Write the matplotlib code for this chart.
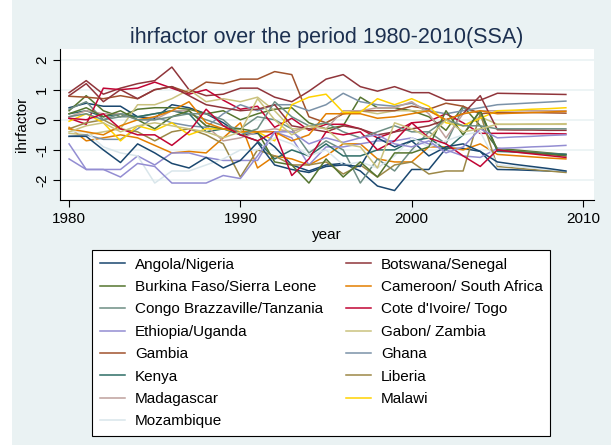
import matplotlib
matplotlib.use("Agg")
import matplotlib.pyplot as plt
from matplotlib.lines import Line2D
from matplotlib.patches import Rectangle

plt.rcParams['font.family'] = ['Liberation Sans', 'DejaVu Sans']

years = list(range(1980, 2010))

angola = [0.40,0.55,0.45,0.45,0.10,0.05,0.50,0.40,0.20,-0.10,-0.50,-0.45,-0.90,-1.50,-1.70,-1.50,-1.45,-1.70,-2.20,-2.35,-1.65,-1.65,-0.95,-0.95,-1.05,-1.65,-1.66,-1.68,-1.70,-1.72]
nigeria = [-0.55,-0.55,-1.00,-1.42,-0.80,-1.10,-1.45,-1.60,-1.25,-1.60,-1.35,-0.75,-1.50,-1.65,-1.75,-1.55,-1.50,-1.55,-0.60,-0.90,-0.70,-1.20,-0.90,-0.80,-1.05,-1.40,-1.48,-1.55,-1.62,-1.70]
botswana = [0.90,1.30,0.85,1.05,1.20,1.30,1.75,1.00,0.80,0.85,1.05,1.05,0.75,0.60,0.95,1.35,1.50,1.10,0.95,1.10,0.90,0.90,0.65,0.65,0.65,0.88,0.87,0.86,0.85,0.84]
senegal = [0.80,1.20,0.60,1.00,0.70,1.00,1.10,0.80,0.50,0.40,0.30,0.35,0.50,-0.20,-0.30,-0.40,-0.20,-0.30,-0.50,-0.40,-0.30,-0.20,0.00,0.20,0.80,-0.33,-0.34,-0.34,-0.35,-0.35]
burkina = [0.30,0.80,0.30,0.10,0.35,0.40,0.40,0.35,0.20,0.30,0.00,0.20,0.35,0.40,-0.10,-0.30,-0.20,0.75,0.40,0.40,0.30,0.10,-0.35,0.45,-0.20,-0.95,-1.00,-1.05,-1.10,-1.15]
sierra_leone = [0.20,0.40,0.10,0.30,0.00,-0.30,0.10,0.30,-0.20,-0.30,-0.30,-0.40,-1.40,-1.50,-2.10,-1.30,-1.90,-1.40,-1.90,-1.10,-1.10,-0.90,0.30,-0.50,0.30,-1.00,-1.05,-1.10,-1.15,-1.20]
cameroon = [-0.25,-0.70,-0.60,-0.50,-0.60,-0.85,-1.10,-1.05,-1.10,-0.60,-0.10,-1.60,-1.20,-1.30,-1.50,-1.20,-0.80,-0.80,-1.30,-1.40,-1.40,-0.90,-0.90,-1.00,-0.80,-1.15,-1.19,-1.23,-1.27,-1.30]
south_africa = [-0.30,-0.40,-0.50,-0.20,0.00,0.10,0.30,0.60,-0.10,-0.30,-0.40,-0.40,-0.40,-0.70,-0.50,0.20,0.20,0.20,0.05,0.10,0.20,0.30,0.00,0.20,0.30,0.20,0.22,0.24,0.26,0.28]
congo = [0.35,0.60,0.00,0.10,0.10,0.20,0.30,0.20,0.00,-0.20,-0.30,0.10,0.00,-0.30,-1.10,-0.70,-1.00,-2.10,-1.30,-1.70,-1.00,-0.40,-0.80,0.40,0.20,-1.00,-1.04,-1.08,-1.12,-1.15]
tanzania = [0.10,0.20,0.00,0.20,0.00,0.00,0.10,0.20,0.20,0.00,-0.50,-0.30,0.60,0.10,-0.20,-0.10,-0.40,-0.60,-0.40,-0.20,-0.40,-0.40,0.00,-0.20,-0.20,-0.30,-0.30,-0.30,-0.30,-0.30]
cote_divoire = [0.05,-0.15,1.05,1.00,1.05,1.25,1.05,0.85,1.00,0.65,0.35,0.45,-0.25,0.05,-0.35,-0.15,-0.15,-0.30,-0.60,-0.40,-0.10,-0.05,0.20,-0.10,-0.45,-0.45,-0.45,-0.46,-0.46,-0.47]
togo = [0.05,0.00,0.20,-0.30,-0.50,-0.50,-0.85,-0.40,0.35,-0.20,-0.50,-0.70,-0.40,-1.85,-1.30,-0.40,-0.50,-0.40,-1.00,-0.70,-0.10,-0.60,-0.80,-1.20,-1.55,-1.00,-1.07,-1.13,-1.19,-1.25]
ethiopia = [-0.80,-1.65,-1.65,-1.65,-1.20,-1.50,-1.10,-1.10,-1.25,-1.35,-1.35,-1.35,-0.40,-0.60,-1.50,-0.90,-0.90,-0.80,-0.70,-0.70,-0.60,-0.80,-1.00,-1.20,-1.25,-0.95,-0.93,-0.90,-0.88,-0.85]
uganda = [-1.30,-1.65,-1.65,-1.90,-1.45,-1.55,-2.10,-2.10,-2.10,-1.85,-1.95,-1.20,-0.40,-0.40,-0.80,-0.60,-0.75,-0.60,-0.50,-0.80,-0.90,-0.70,-1.10,-0.90,-0.30,-0.60,-0.57,-0.55,-0.52,-0.50]
gabon = [-0.45,-0.50,-0.40,-0.30,0.50,0.50,0.70,1.00,0.60,0.70,0.60,0.75,0.30,-0.30,-0.30,-0.10,0.20,0.30,0.20,0.30,0.30,0.30,0.00,-0.20,0.10,-0.15,-0.15,-0.15,-0.15,-0.15]
zambia = [-0.40,-0.20,-0.10,-0.40,-0.20,-0.10,-0.20,-0.30,-0.40,-0.60,-0.40,0.70,0.00,-0.50,-0.20,-0.30,-0.80,-0.90,-1.60,-0.10,-0.30,-0.60,0.00,-0.40,-0.30,-0.15,-0.15,-0.14,-0.14,-0.13]
gambia = [0.78,0.75,0.70,0.80,0.70,1.00,1.10,0.90,1.25,1.20,1.35,1.35,1.60,1.50,0.10,-0.10,0.20,0.30,0.30,0.30,0.45,0.35,0.55,0.45,0.20,0.25,0.24,0.24,0.23,0.22]
ghana = [-0.55,-0.50,-0.65,-0.65,-0.30,0.10,-0.10,-0.20,-0.25,0.20,0.50,0.30,0.50,0.50,0.30,0.50,0.88,0.60,0.50,0.45,0.55,0.30,0.20,0.30,0.40,0.50,0.53,0.56,0.59,0.62]
kenya = [0.20,0.30,0.10,0.20,0.10,0.20,0.30,0.20,-0.40,-0.30,-0.50,-0.70,-1.30,-1.00,-1.20,-0.80,-1.20,-1.20,-1.00,-1.00,-0.70,-0.60,-1.00,-0.50,0.30,-1.05,-1.07,-1.10,-1.13,-1.15]
liberia = [-0.30,-0.10,0.00,-0.30,-0.40,-0.70,-0.40,-0.30,-0.50,-0.80,-1.90,-1.00,-1.20,-1.50,-1.50,-1.40,-1.80,-1.50,-1.90,-1.50,-1.40,-1.80,-1.70,-1.70,0.20,-1.55,-1.60,-1.65,-1.70,-1.75]
madagascar = [0.10,0.30,0.20,0.20,0.00,0.00,0.30,0.30,-0.20,-0.70,-0.60,-0.40,-0.30,-0.40,-0.20,-0.30,0.30,0.30,0.40,0.40,0.60,0.20,-0.60,0.20,0.30,0.30,0.30,0.30,0.30,0.30]
malawi = [-0.05,0.20,-0.10,-0.70,-0.20,-0.35,-0.10,-0.50,-0.30,-0.30,-0.40,-0.40,-0.70,0.50,0.75,0.85,0.25,0.25,0.70,0.50,0.70,0.45,-0.10,-0.20,0.05,0.30,0.32,0.35,0.37,0.40]
mozambique = [-0.40,-0.40,-0.90,-1.10,-1.20,-2.10,-1.70,-1.70,-1.50,-1.30,-1.00,-1.00,-0.60,-0.80,-1.20,-1.00,-1.50,-1.40,-1.60,-1.20,-0.60,-0.90,-0.70,-0.50,-0.40,-1.50,-1.55,-1.60,-1.65,-1.70]

legend_labels = ["Angola/Nigeria", "Botswana/Senegal", "Burkina Faso/Sierra Leone",
                 "Cameroon/ South Africa", "Congo Brazzaville/Tanzania", "Cote d'Ivoire/ Togo",
                 "Ethiopia/Uganda", "Gabon/ Zambia", "Gambia", "Ghana", "Kenya", "Liberia",
                 "Madagascar", "Malawi", "Mozambique"]
colors = ["#1a476f", "#90353b", "#55752f", "#e37e00", "#6e8e84", "#c10534", "#938dd2",
          "#cac27e", "#a0522d", "#7b92a8", "#2d6d66", "#9c8847", "#bfa19c", "#ffd200", "#d9e6eb"]

# countries in alphabetical order; colors cycle through the 15-color palette
countries = [angola, botswana, burkina, cameroon, congo, cote_divoire, ethiopia, gabon,
             gambia, ghana, kenya, liberia, madagascar, malawi, mozambique,
             nigeria, senegal, sierra_leone, south_africa, tanzania, togo, uganda, zambia]

W, H = 611, 445
fig = plt.figure(figsize=(W / 100, H / 100), dpi=100)
fig.patch.set_facecolor("#eaf2f3")
fig.patches.append(Rectangle((0, 0), 12 / W, 1, transform=fig.transFigure,
                             facecolor="white", edgecolor="none", zorder=0))

ax = fig.add_axes([60 / W, 1 - 200.5 / H, (594 - 60) / W, (200.5 - 49) / H])
ax.set_facecolor("white")
for i, vals in enumerate(countries):
    ax.plot(years, vals, color=colors[i % 15], lw=1.1, zorder=3)

ax.set_xlim(1979.47, 2010.64)
ax.set_ylim(-2.68, 2.35)
ax.set_xticks([1980, 1990, 2000, 2010])
ax.set_yticks([-2, -1, 0, 1, 2])
ax.set_yticklabels(["-2", "-1", "0", "1", "2"], rotation=90, va="center")
ax.tick_params(axis="both", direction="out", length=5, width=0.8, labelsize=11,
               colors="black", pad=3)
for s in ["top", "right"]:
    ax.spines[s].set_visible(False)
for s in ["left", "bottom"]:
    ax.spines[s].set_color("black")
    ax.spines[s].set_linewidth(0.8)
ax.grid(axis="y", color="#eaf2f3", lw=1.2, zorder=1)
ax.set_axisbelow(True)

ax.set_xlabel("year", fontsize=11, labelpad=2)
ax.set_ylabel("ihrfactor", fontsize=11, labelpad=4)

fig.text(327 / W, 1 - 37 / H, "ihrfactor over the period 1980-2010(SSA)",
         ha="center", va="center", fontsize=15.5, color="#1c3050")

# legend is read row by row in the reference: reorder for matplotlib's column fill
order = list(range(0, 15, 2)) + list(range(1, 15, 2))
handles = [Line2D([0], [0], color=colors[k], lw=1.1) for k in order]
labels = [legend_labels[k] for k in order]
leg = fig.legend(handles, labels, ncol=2, loc="upper left",
                 bbox_to_anchor=(92 / W, 1 - 250 / H), borderaxespad=0,
                 fontsize=11, frameon=True, fancybox=False, framealpha=1,
                 edgecolor="black", facecolor="white", handlelength=1.65,
                 handletextpad=0.65, columnspacing=1.5, labelspacing=0.55,
                 borderpad=0.5)
leg.get_frame().set_linewidth(0.8)

fig.savefig("out.png", dpi=100, facecolor=fig.get_facecolor())
